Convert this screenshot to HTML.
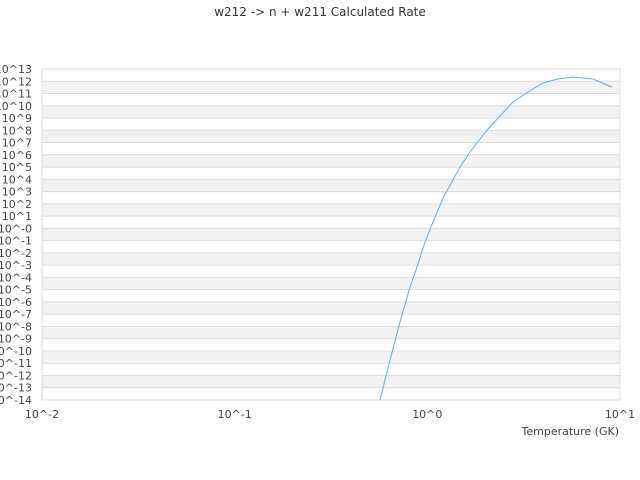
<!DOCTYPE html>
<html><head><style>
body{margin:0;background:#fff;}
</style></head><body>
<svg width="640" height="480" xmlns="http://www.w3.org/2000/svg" font-family="DejaVu Sans, Liberation Sans, sans-serif" font-size="11" fill="#444" style="display:block">
<text x="320" y="16" text-anchor="middle" font-size="12" fill="#333">w212 -&gt; n + w211 Calculated Rate</text>
<g fill="#f2f2f2">
<rect x="42" y="81.26" width="578" height="12.26"/>
<rect x="42" y="105.78" width="578" height="12.26"/>
<rect x="42" y="130.30" width="578" height="12.26"/>
<rect x="42" y="154.81" width="578" height="12.26"/>
<rect x="42" y="179.33" width="578" height="12.26"/>
<rect x="42" y="203.85" width="578" height="12.26"/>
<rect x="42" y="228.37" width="578" height="12.26"/>
<rect x="42" y="252.89" width="578" height="12.26"/>
<rect x="42" y="277.41" width="578" height="12.26"/>
<rect x="42" y="301.93" width="578" height="12.26"/>
<rect x="42" y="326.44" width="578" height="12.26"/>
<rect x="42" y="350.96" width="578" height="12.26"/>
<rect x="42" y="375.48" width="578" height="12.26"/>
</g>
<g stroke="#dcdcdc" stroke-width="1">
<line x1="42" x2="620" y1="81.26" y2="81.26"/>
<line x1="42" x2="620" y1="93.52" y2="93.52"/>
<line x1="42" x2="620" y1="105.78" y2="105.78"/>
<line x1="42" x2="620" y1="118.04" y2="118.04"/>
<line x1="42" x2="620" y1="130.30" y2="130.30"/>
<line x1="42" x2="620" y1="142.56" y2="142.56"/>
<line x1="42" x2="620" y1="154.81" y2="154.81"/>
<line x1="42" x2="620" y1="167.07" y2="167.07"/>
<line x1="42" x2="620" y1="179.33" y2="179.33"/>
<line x1="42" x2="620" y1="191.59" y2="191.59"/>
<line x1="42" x2="620" y1="203.85" y2="203.85"/>
<line x1="42" x2="620" y1="216.11" y2="216.11"/>
<line x1="42" x2="620" y1="228.37" y2="228.37"/>
<line x1="42" x2="620" y1="240.63" y2="240.63"/>
<line x1="42" x2="620" y1="252.89" y2="252.89"/>
<line x1="42" x2="620" y1="265.15" y2="265.15"/>
<line x1="42" x2="620" y1="277.41" y2="277.41"/>
<line x1="42" x2="620" y1="289.67" y2="289.67"/>
<line x1="42" x2="620" y1="301.93" y2="301.93"/>
<line x1="42" x2="620" y1="314.19" y2="314.19"/>
<line x1="42" x2="620" y1="326.44" y2="326.44"/>
<line x1="42" x2="620" y1="338.70" y2="338.70"/>
<line x1="42" x2="620" y1="350.96" y2="350.96"/>
<line x1="42" x2="620" y1="363.22" y2="363.22"/>
<line x1="42" x2="620" y1="375.48" y2="375.48"/>
<line x1="42" x2="620" y1="387.74" y2="387.74"/>
</g>
<rect x="42" y="69" width="578" height="331" fill="none" stroke="#dcdcdc"/>
<g text-anchor="end">
<text x="32" y="73">10^13</text>
<text x="32" y="85.26">10^12</text>
<text x="32" y="97.52">10^11</text>
<text x="32" y="109.78">10^10</text>
<text x="32" y="122.04">10^9</text>
<text x="32" y="134.30">10^8</text>
<text x="32" y="146.56">10^7</text>
<text x="32" y="158.81">10^6</text>
<text x="32" y="171.07">10^5</text>
<text x="32" y="183.33">10^4</text>
<text x="32" y="195.59">10^3</text>
<text x="32" y="207.85">10^2</text>
<text x="32" y="220.11">10^1</text>
<text x="32" y="232.37">10^-0</text>
<text x="32" y="244.63">10^-1</text>
<text x="32" y="256.89">10^-2</text>
<text x="32" y="269.15">10^-3</text>
<text x="32" y="281.41">10^-4</text>
<text x="32" y="293.67">10^-5</text>
<text x="32" y="305.93">10^-6</text>
<text x="32" y="318.19">10^-7</text>
<text x="32" y="330.44">10^-8</text>
<text x="32" y="342.70">10^-9</text>
<text x="32" y="354.96">10^-10</text>
<text x="32" y="367.22">10^-11</text>
<text x="32" y="379.48">10^-12</text>
<text x="32" y="391.74">10^-13</text>
<text x="32" y="404">10^-14</text>
</g>
<text x="42" y="418" text-anchor="middle">10^-2</text>
<text x="234.7" y="418" text-anchor="middle">10^-1</text>
<text x="427.3" y="418" text-anchor="middle">10^0</text>
<text x="620" y="418" text-anchor="middle">10^1</text>
<text x="619" y="435" text-anchor="end">Temperature (GK)</text>
<polyline fill="none" stroke="#66aaee" stroke-width="1" points="380,400 390,360 400,322 410,287 416,270 425,242 433,222 443,198 453,180 460,167 470,152 487,130 500,116 513,102 528,92 543,83 558,79 573,77 593,79 612,87"/>
</svg>
</body></html>
